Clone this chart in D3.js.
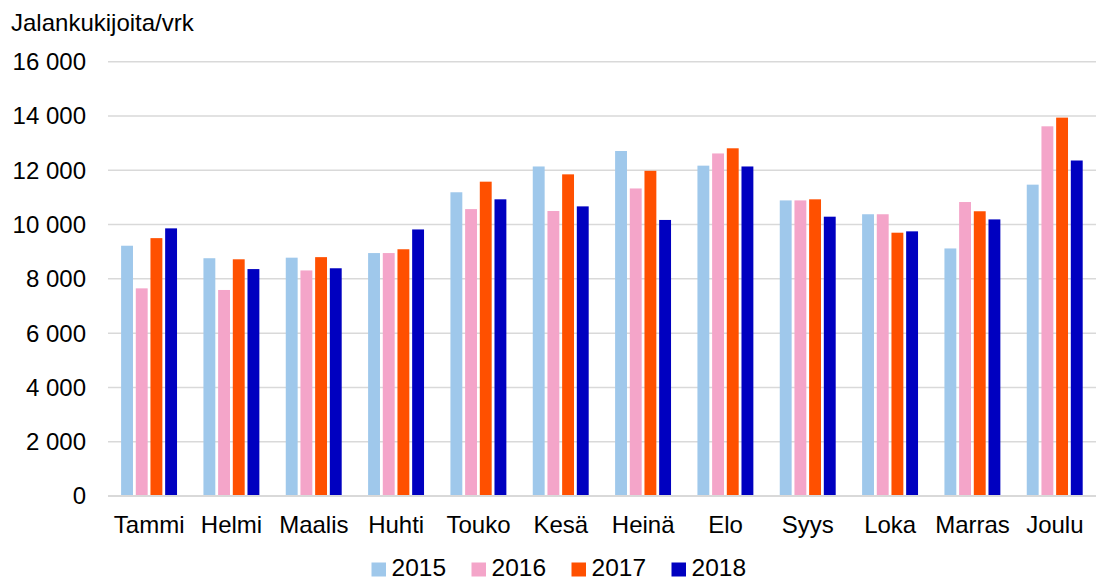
<!DOCTYPE html>
<html>
<head>
<meta charset="utf-8">
<script src="https://cdn.jsdelivr.net/npm/d3@7"></script>
<style>
  html, body { margin: 0; padding: 0; background: #fff; }
  svg { display: block; font-family: "Liberation Sans", Arial, sans-serif; }
</style>
</head>
<body>
<svg id="chart" width="1102" height="581"></svg>
<script>
const months = ["Tammi","Helmi","Maalis","Huhti","Touko","Kesä","Heinä","Elo","Syys","Loka","Marras","Joulu"];
const years = ["2015","2016","2017","2018"];
const v2015 = [9220, 8760, 8780, 8950, 11190, 12140, 12710, 12170, 10890, 10380, 9120, 11470];
const v2016 = [7650, 7590, 8310, 8950, 10570, 10500, 11330, 12620, 10890, 10380, 10830, 13620];
const v2017 = [9500, 8720, 8800, 9090, 11580, 11850, 11980, 12810, 10930, 9700, 10490, 13940];
const v2018 = [9860, 8360, 8390, 9820, 10930, 10670, 10170, 12140, 10290, 9750, 10190, 12360];
const yTicks = [0, 2000, 4000, 6000, 8000, 10000, 12000, 14000, 16000];
const colors = ["#9fc8eb", "#f4a5c9", "#ff5000", "#0000c0"];
const yTitle = "Jalankukijoita/vrk";

const series = [v2015, v2016, v2017, v2018];
const svg = d3.select("#chart");

const locale = d3.formatLocale({decimal: ",", thousands: "\u00a0", grouping: [3], currency: ["", " €"]});
const fmt = locale.format(",d");

const y = d3.scaleLinear().domain([0, 16000]).range([496, 61.7]);
const x0 = d3.scaleBand().domain(months).range([108, 1096]).paddingInner(0).paddingOuter(0);
const bw = x0.bandwidth();
const x1 = d3.scaleBand().domain(years).range([11.8, bw - 11.8]).padding(0);

// gridlines
svg.append("g").selectAll("line").data(yTicks.filter(d => d > 0)).join("line")
  .attr("x1", 108).attr("x2", 1096)
  .attr("y1", d => y(d)).attr("y2", d => y(d))
  .attr("stroke", "#d9d9d9").attr("stroke-width", 1.5);

// y tick labels
svg.append("g").selectAll("text").data(yTicks).join("text")
  .attr("x", 86).attr("y", d => y(d))
  .attr("dy", "0.35em")
  .attr("text-anchor", "end")
  .attr("font-size", 24).attr("fill", "#000")
  .text(d => fmt(d));

// bars
const g = svg.append("g");
months.forEach((m, i) => {
  years.forEach((yr, j) => {
    const val = series[j][i];
    g.append("rect")
      .attr("x", x0(m) + x1(yr) + 1.3)
      .attr("y", y(val))
      .attr("width", x1.bandwidth() - 2.8)
      .attr("height", y(0) - y(val))
      .attr("fill", colors[j]);
  });
});

// baseline
svg.append("line").attr("x1", 108).attr("x2", 1096)
  .attr("y1", y(0)).attr("y2", y(0))
  .attr("stroke", "#d9d9d9").attr("stroke-width", 2);

// x labels
svg.append("g").selectAll("text").data(months).join("text")
  .attr("x", d => x0(d) + bw / 2).attr("y", 533)
  .attr("text-anchor", "middle")
  .attr("font-size", 24).attr("fill", "#000")
  .text(d => d);

// y title
svg.append("text").attr("x", 11).attr("y", 31)
  .attr("font-size", 24).attr("fill", "#000").text(yTitle);

// legend
const lg = svg.append("g");
years.forEach((yr, j) => {
  const lx = 371.5 + j * 100;
  lg.append("rect").attr("x", lx).attr("y", 562.5).attr("width", 14.5).attr("height", 14).attr("fill", colors[j]);
  lg.append("text").attr("x", lx + 20).attr("y", 576)
    .attr("font-size", 24.5).attr("fill", "#000").text(yr);
});
</script>
</body>
</html>
